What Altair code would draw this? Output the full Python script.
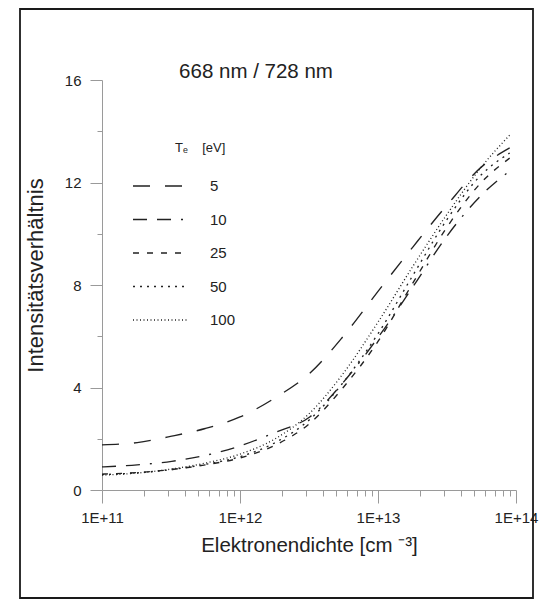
import altair as alt
import pandas as pd

# ---- data ----
density = [1e11, 1.8e11, 3.2e11, 5.6e11, 1e12, 1.8e12, 3.2e12, 5.6e12,
           1e13, 1.8e13, 3.2e13, 5.6e13, 9e13]
te_labels = ["5", "10", "25", "50", "100"]
ratio_5 = [1.76, 1.85, 2.1, 2.4, 2.85, 3.6, 4.55, 6.0, 7.75, 9.5, 11.15, 12.6, 13.35]
ratio_10 = [0.9, 0.98, 1.12, 1.35, 1.72, 2.25, 2.85, 4.2, 5.95, 7.95, 9.95, 11.5, 12.45]
ratio_25 = [0.62, 0.68, 0.8, 0.98, 1.25, 1.75, 2.6, 4.0, 5.8, 8.1, 10.3, 12.0, 12.95]
ratio_50 = [0.6, 0.67, 0.8, 1.0, 1.3, 1.85, 2.75, 4.2, 6.1, 8.4, 10.6, 12.3, 13.15]
ratio_100 = [0.58, 0.66, 0.82, 1.05, 1.4, 2.0, 3.0, 4.55, 6.55, 8.75, 10.8, 12.6, 13.85]

x_major = [1e11, 1e12, 1e13, 1e14]
x_minor = [k * d for d in (1e11, 1e12, 1e13) for k in range(2, 10)]
y_major = [0, 4, 8, 12, 16]
y_minor = [2, 6, 10, 14]

title_text = "668 nm / 728 nm"
legend_title = "T\u2091\u00a0\u00a0\u00a0\u00a0[eV]"
x_title = "Elektronendichte [cm \u207b\u00b3]"
y_title = "Intensitätsverhältnis"

series = [ratio_5, ratio_10, ratio_25, ratio_50, ratio_100]
rows = []
for lab, vals in zip(te_labels, series):
    for n, v in zip(density, vals):
        rows.append({"n": n, "v": v, "T": lab})
df = pd.DataFrame(rows)
leg_df = pd.DataFrame({"T": te_labels, "row": list(range(len(te_labels)))})

# ---- styling ----
FONT = "Liberation Sans"
INK = "#222222"
AX = "#9a9a9a"
W, H = 414, 410
dashes = [[17, 15], [14, 10, 14, 10, 2, 10], [6, 8], [2, 5], [1, 2.5]]
dash_scale = alt.Scale(domain=te_labels, range=dashes)

x_scale = alt.Scale(type="log", domain=[1e11, 1e14], nice=False)
y_scale = alt.Scale(domain=[0, 16], nice=False, zero=False)

x_axis = alt.Axis(values=x_major, orient="bottom",
                  labelExpr="'1E+' + round(log(datum.value) / LN10)",
                  tickSize=13, labelPadding=7, labelFlush=False, labelOverlap=False,
                  domainColor=AX, tickColor=AX, labelColor=INK, labelFont=FONT,
                  labelFontSize=15, grid=False,
                  title=x_title, titleFont=FONT, titleFontSize=20.5,
                  titleFontWeight="normal", titleColor=INK,
                  titleBaseline="alphabetic", titleY=61, titleX=W / 2)
y_axis = alt.Axis(values=y_major, orient="left", tickSize=12, labelPadding=9,
                  domainColor=AX, tickColor=AX, labelColor=INK, labelFont=FONT,
                  labelFontSize=15, grid=False, format="d",
                  title=y_title, titleFont=FONT, titleFontSize=22,
                  titleFontWeight="normal", titleColor=INK, titleAngle=-90,
                  titleBaseline="alphabetic", titleX=-60, titleY=195)
x_axis_minor = alt.Axis(values=x_minor, orient="bottom", tickSize=6, labels=False,
                        domain=False, tickColor=AX, grid=False, title=None)
y_axis_minor = alt.Axis(values=y_minor, orient="left", tickSize=5, labels=False,
                        domain=False, tickColor=AX, grid=False, title=None)

lines = alt.Chart(df).mark_line(color=INK, strokeWidth=1.35, interpolate="monotone").encode(
    x=alt.X("n:Q", scale=x_scale, axis=x_axis),
    y=alt.Y("v:Q", scale=y_scale, axis=y_axis),
    strokeDash=alt.StrokeDash("T:N", scale=dash_scale, legend=None),
)

minor = alt.Chart(df).mark_line(opacity=0).encode(
    x=alt.X("n:Q", scale=x_scale, axis=x_axis_minor),
    y=alt.Y("v:Q", scale=y_scale, axis=y_axis_minor),
    detail="T:N",
)

leg_y = alt.Y("row:Q", scale=alt.Scale(domain=[0, 4], range=[106, 240]), axis=None)
leg_lines = alt.Chart(leg_df).mark_rule(color=INK, strokeWidth=1.35).encode(
    x=alt.value(31), x2=alt.value(85), y=leg_y,
    strokeDash=alt.StrokeDash("T:N", scale=dash_scale, legend=None),
)
leg_text = alt.Chart(leg_df).mark_text(align="left", baseline="middle", font=FONT,
                                       fontSize=15, color=INK).encode(
    x=alt.value(108), y=leg_y, text="T:N",
)
leg_head = alt.Chart(pd.DataFrame({"t": [legend_title]})).mark_text(
    align="left", baseline="middle", font=FONT, fontSize=13, color=INK).encode(
    x=alt.value(73), y=alt.value(68), text="t:N")

head = alt.Chart(pd.DataFrame({"t": [title_text]})).mark_text(
    align="center", baseline="alphabetic", font=FONT, fontSize=20.5, color=INK).encode(
    x=alt.value(154), y=alt.value(-2), text="t:N")

frame = alt.Chart(pd.DataFrame({"f": [0]})).mark_rect(
    fillOpacity=0, stroke="#1a1a1a", strokeWidth=1.8).encode(
    x=alt.value(-82), x2=alt.value(431), y=alt.value(-71), y2=alt.value(518))

chart = alt.layer(lines, minor, leg_lines, leg_text, leg_head, head, frame).resolve_scale(
    y="independent"
).resolve_axis(
    x="independent", y="independent"
).properties(
    width=W, height=H,
    autosize=alt.AutoSizeParams(type="none"),
    padding={"left": 102, "top": 80, "right": 29, "bottom": 113},
    background="white",
).configure_view(stroke=None)

chart.save("out.html", embed_options={"renderer": "svg", "actions": False})
